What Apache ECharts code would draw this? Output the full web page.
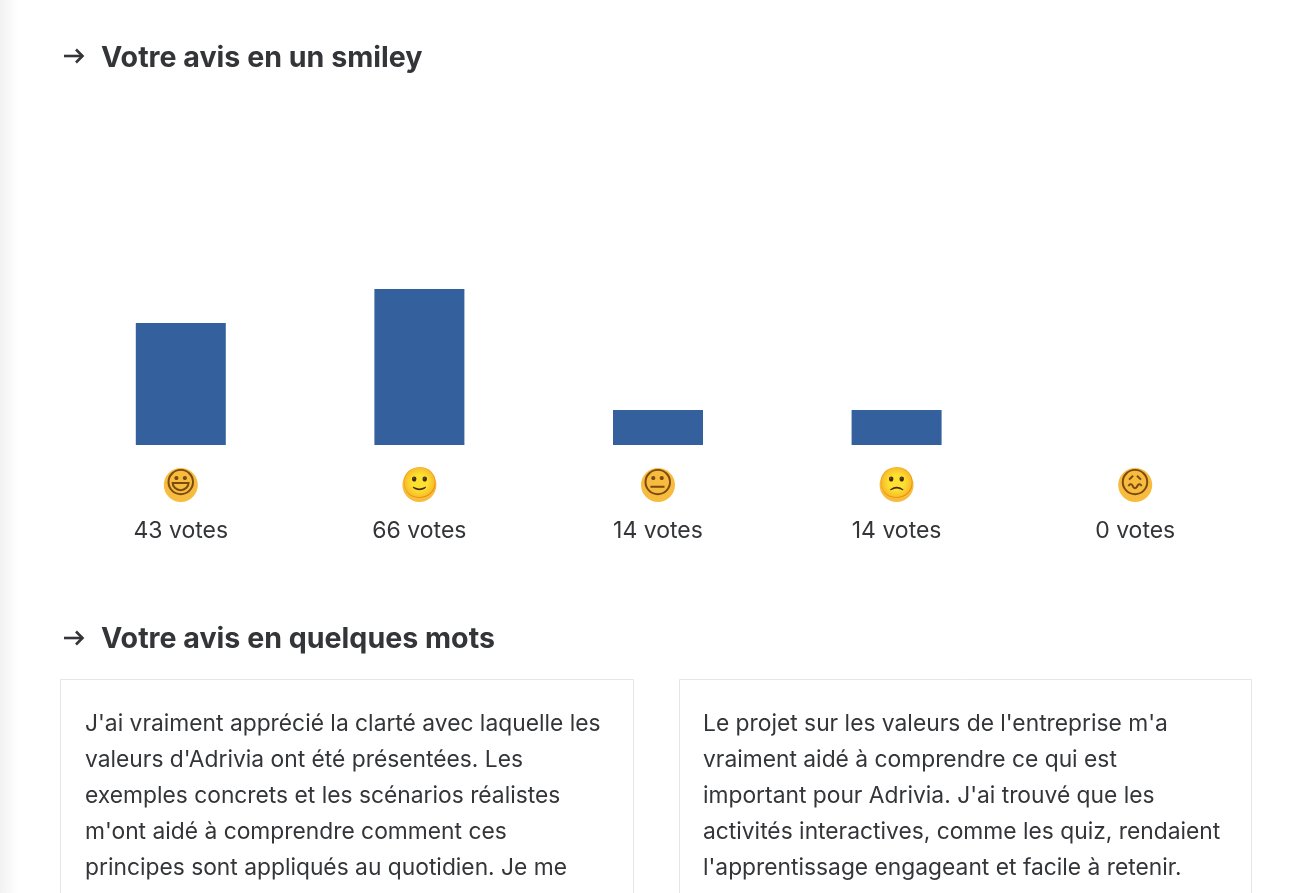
<!DOCTYPE html>
<html>
<head>
<meta charset="utf-8">
<style>html,body{margin:0;padding:0;background:#fff}#c{width:1300px;height:893px}</style>
<script src="https://cdn.jsdelivr.net/npm/echarts@6/dist/echarts.min.js"></script>
</head>
<body>
<div id="c"></div>
<script>
// Smileys and the vote counts printed beneath them.
const smileys = ['😃', '🙂', '😐', '🙁', '😖'];
const voteCounts = [43, 66, 14, 14, 0];
// Bar lengths, on a scale where the 66-vote bar is 66.
// The reference's bars are not proportional to their printed counts.
const barValues = [51.6, 66, 14.8, 14.8, 0];
const headingTop = 'Votre avis en un smiley';
const headingBottom = 'Votre avis en quelques mots';
// A sixth line in each card is cut off by the page edge and cannot be read, so it is left out.
const commentLeft = [
  "J'ai vraiment apprécié la clarté avec laquelle les",
  "valeurs d'Adrivia ont été présentées. Les",
  "exemples concrets et les scénarios réalistes",
  "m'ont aidé à comprendre comment ces",
  "principes sont appliqués au quotidien. Je me"
];
const commentRight = [
  "Le projet sur les valeurs de l'entreprise m'a",
  "vraiment aidé à comprendre ce qui est",
  "important pour Adrivia. J'ai trouvé que les",
  "activités interactives, comme les quiz, rendaient",
  "l'apprentissage engageant et facile à retenir."
];

const FONT = 'Inter, "Liberation Sans", sans-serif';
const INK = '#333538';

function lines(arr, x) {
  return arr.map((t, i) => ({
    type: 'text', x, y: 724 + i * 36, silent: true, z: 5,
    style: { text: t, font: '400 22.8px ' + FONT, fill: INK, textVerticalAlign: 'middle' }
  }));
}
function heading(t, y, textY) {
  return [
    { type: 'polyline', silent: true, z: 5, shape: { points: [[64, y], [82, y]] },
      style: { stroke: INK, lineWidth: 2.6, fill: null } },
    { type: 'polyline', silent: true, z: 5, shape: { points: [[76, y - 6.5], [82.5, y], [76, y + 6.5]] },
      style: { stroke: INK, lineWidth: 2.6, fill: null } },
    { type: 'text', x: 101, y: textY, silent: true, z: 5,
      style: { text: t, font: '700 28.6px ' + FONT, fill: INK, textVerticalAlign: 'middle' } }
  ];
}
function card(x, w) {
  return { type: 'rect', silent: true, z: 1, shape: { x: x + .5, y: 679.5, width: w, height: 260 },
    style: { fill: '#fff', stroke: '#e3e7ea', lineWidth: 1 } };
}

const chart = echarts.init(document.getElementById('c'), null, { renderer: 'canvas' });
chart.setOption({
  animation: false,
  backgroundColor: '#fff',
  grid: { left: 61.5, width: 1193, top: 289, height: 156, containLabel: false },
  xAxis: {
    type: 'category',
    data: smileys.map((s, i) => s + '\n' + voteCounts[i]),
    axisLine: { show: false }, axisTick: { show: false }, splitLine: { show: false },
    axisLabel: {
      interval: 0, margin: 22, lineHeight: 0,
      formatter: v => {
        const [e, n] = v.split('\n');
        return '{e|' + e + '}\n{t|' + n + ' votes}';
      },
      rich: {
        e: { fontFamily: '"DejaVu Sans"', fontSize: 30, lineHeight: 36, width: 34, height: 34, align: 'center',
             color: '#7a4a12', backgroundColor: '#f7bc3e', borderRadius: 17 },
        t: { fontFamily: FONT, fontSize: 23, lineHeight: 56, color: INK, align: 'center' }
      }
    }
  },
  yAxis: { type: 'value', min: 0, max: 66, show: false },
  series: [{
    type: 'bar', data: barValues, barWidth: 90, silent: true,
    itemStyle: { color: '#34619d' }
  }],
  graphic: {
    elements: [
      { type: 'rect', silent: true, z: 0, shape: { x: 0, y: 0, width: 18, height: 893 },
        style: { fill: new echarts.graphic.LinearGradient(0, 0, 1, 0, [
          { offset: 0, color: '#f2f2f2' }, { offset: 1, color: '#ffffff' }]) } },
      ...heading(headingTop, 56, 58),
      ...heading(headingBottom, 638, 639.5),
      card(60, 573), card(679, 572),
      ...lines(commentLeft, 85),
      ...lines(commentRight, 703)
    ]
  }
});
</script>
</body>
</html>
